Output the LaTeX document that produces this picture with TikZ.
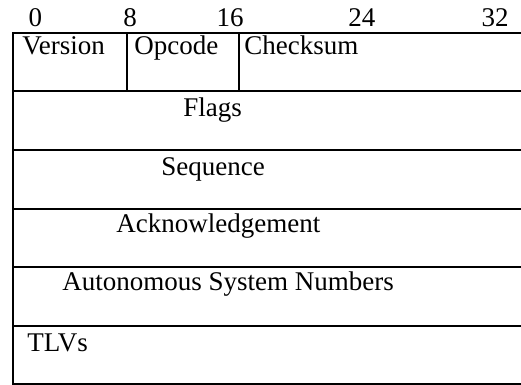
\documentclass[tikz,border=0pt]{standalone}
\usepackage{fontspec}
\setmainfont{Liberation Serif}
\usepackage{tikz}
\usetikzlibrary{positioning}

\begin{document}
\begin{tikzpicture}[
      x=0.5pt, y=-0.5pt,
      grid/.style={line width=1pt, black},
      field/.style={inner sep=0pt, anchor=base west, font=\fontsize{13.5}{16}\selectfont},
      bitno/.style={inner sep=0pt, anchor=base, font=\fontsize{13.5}{16}\selectfont}
    ]
    \useasboundingbox (0,0) rectangle (521,385);
    \clip (0,0) rectangle (521,385);

    % bit positions
    \node[bitno] (b0) at (35.5,27) {0};
    \node[bitno] (b8) at (130,27) {8};
    \node[bitno] (b16) at (230,27) {16};
    \node[bitno] (b24) at (362,27) {24};
    \node[bitno] (b32) at (495,27) {32};

    % table
    \draw[grid] (13,33) rectangle (530,384);
    \foreach \y in {91,150.5,209,267.5,326.5}
      \draw[grid] (13,\y) -- (530,\y);
    \draw[grid] (127,33) -- (127,91);
    \draw[grid] (239,33) -- (239,91);

    % fields
    \node[field] (ver) at (22,55) {Version};
    \node[field] (opc) at (134,55) {Opcode};
    \node[field] (chk) at (244,55) {Checksum};
    \node[field] (flg) at (183,117) {Flags};
    \node[field] (seq) at (161,176) {Sequence};
    \node[field] (ack) at (116,233) {Acknowledgement};
    \node[field] (asn) at (62,291) {Autonomous System Numbers};
    \node[field] (tlv) at (27,352) {TLVs};
  \end{tikzpicture}
\end{document}
